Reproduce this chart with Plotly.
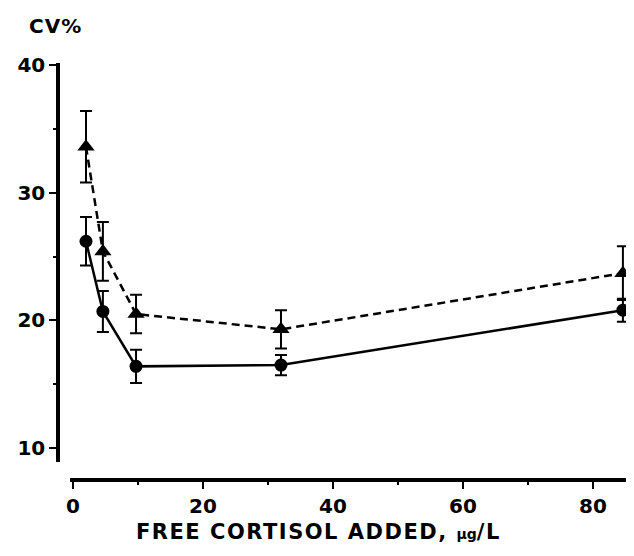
import plotly.graph_objects as go

x_vals = [2.0, 4.6, 9.7, 32.0, 84.6]
circle_cv = [26.2, 20.7, 16.4, 16.5, 20.8]
circle_err = [1.9, 1.6, 1.3, 0.8, 0.9]
tri_cv = [33.6, 25.4, 20.5, 19.3, 23.7]
tri_err = [2.8, 2.3, 1.5, 1.5, 2.1]

x_ticks = [0, 20, 40, 60, 80]
y_ticks = [10, 20, 30, 40]

OFF = 8  # page body margin
W, H = 634 - 2 * OFF, 556 - 2 * OFF
ml, mr, mt, mb = 40, 0, 40, 50
pw, ph = W - ml - mr, H - mt - mb

def px_x(p):
    return (p - OFF - ml) / pw

def px_y(p):
    return (H - mb - (p - OFF)) / ph

fig = go.Figure()
fig.add_trace(go.Scatter(
    x=x_vals, y=tri_cv, mode="lines+markers",
    line=dict(color="black", width=2.5, dash="8px,5px"),
    marker=dict(symbol="triangle-up", size=15, color="black"),
    error_y=dict(type="data", array=tri_err, color="black", thickness=2, width=6),
    cliponaxis=False, showlegend=False))
fig.add_trace(go.Scatter(
    x=x_vals, y=circle_cv, mode="lines+markers",
    line=dict(color="black", width=2.5),
    marker=dict(symbol="circle", size=13, color="black"),
    error_y=dict(type="data", array=circle_err, color="black", thickness=2, width=6),
    cliponaxis=False, showlegend=False))

FONT = "DejaVu Sans"
tickfont = dict(family=FONT, size=20, color="black")

fig.update_layout(
    width=W, height=H,
    margin=dict(l=ml, r=mr, t=mt, b=mb),
    paper_bgcolor="white", plot_bgcolor="white",
    xaxis=dict(
        domain=[px_x(70), 1.0], range=[-0.46, (626 - 73) / 6.5],
        anchor="free", position=px_y(480),
        showline=True, linecolor="black", linewidth=3.5,
        showgrid=False, zeroline=False,
        tickmode="array", tickvals=x_ticks, ticktext=["<b>%d</b>" % v for v in x_ticks],
        ticks="outside", ticklen=7, tickwidth=2, tickcolor="black",
        tickfont=tickfont,
        minor=dict(tickvals=[10, 30, 50, 70], ticks="outside", ticklen=3, tickwidth=2, tickcolor="black"),
    ),
    yaxis=dict(
        domain=[px_y(462), px_y(63)], range=[8.91, 40.16],
        anchor="free", position=px_x(58),
        showline=True, linecolor="black", linewidth=3.5,
        showgrid=False, zeroline=False,
        tickmode="array", tickvals=y_ticks, ticktext=["<b>%d</b>" % v for v in y_ticks],
        ticks="outside", ticklen=7, tickwidth=2, tickcolor="black",
        tickfont=tickfont,
        minor=dict(tickvals=[15, 25, 35], ticks="outside", ticklen=3, tickwidth=2, tickcolor="black"),
    ),
    annotations=[
        dict(text="<b><span style='letter-spacing:1px'>CV%</span></b>", xref="paper", yref="paper",
             x=px_x(27), y=px_y(26),
             xanchor="left", yanchor="middle", showarrow=False,
             font=dict(family=FONT, size=20, color="black")),
        dict(text="<b><span style='letter-spacing:1.5px'>FREE CORTISOL ADDED, </span>"
                  "<span style='font-size:14px'>μg</span><span style='letter-spacing:1.5px'>/L</span></b>",
             xref="paper", yref="paper", x=px_x(318), y=px_y(532),
             xanchor="center", yanchor="middle", showarrow=False,
             font=dict(family=FONT, size=21, color="black")),
    ],
)

fig.write_html("out.html")
